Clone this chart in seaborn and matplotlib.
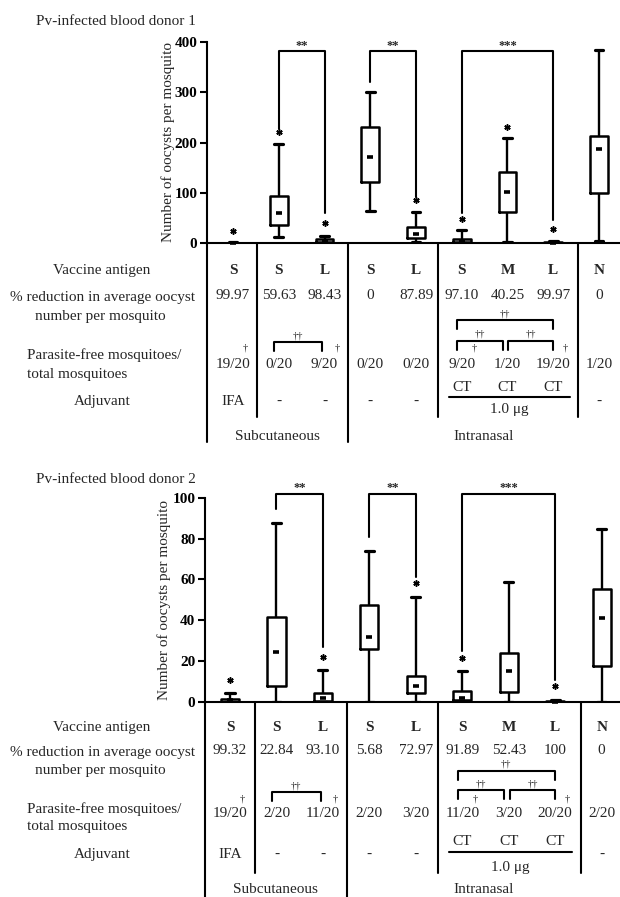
import numpy as np
import pandas as pd
import matplotlib
matplotlib.use("Agg")
import matplotlib.pyplot as plt
import seaborn as sns
from matplotlib.transforms import blended_transform_factory

nan = np.nan

# ---------------- categories ----------------
groups = ["S/IFA sc", "S sc", "L sc", "S in", "L in", "S/CT in", "M/CT in", "L/CT in", "N"]
antigen = ["S", "S", "L", "S", "L", "S", "M", "L", "N"]
adjuvant = ["IFA", "-", "-", "-", "-", "CT", "CT", "CT", "-"]
ct_dose = "1.0 \u03bcg"
routes = ["Subcutaneous", "Intranasal"]
row_labels = ["Vaccine antigen", "% reduction in average oocyst", "number per mosquito",
              "Parasite-free mosquitoes/", "total mosquitoes", "Adjuvant"]

# ---------------- donor 1 (box summaries) ----------------
d1_title = "Pv-infected blood donor 1"
d1_min = [0, 11, 0, 64, 1, 0, 2, 0, 3]
d1_q1 = [0, 35, 1, 121, 9, 1, 62, 0, 100]
d1_med = [0, 59, 3, 171, 18, 3, 102, 0.5, 188]
d1_q3 = [0.5, 93, 7, 230, 31, 8, 141, 2, 213]
d1_max = [1, 198, 14, 301, 62, 25, 208, 3, 384]
d1_star = [24, 220, 39, nan, 85, 48, 231, 28, nan]
d1_yticks = [0, 100, 200, 300, 400]
d1_reduction = ["99.97", "59.63", "98.43", "0", "87.89", "97.10", "40.25", "99.97", "0"]
d1_free = ["19/20", "0/20", "9/20", "0/20", "0/20", "9/20", "1/20", "19/20", "1/20"]
d1_sig_top = 382
d1_sig_legs = [(226, 59), (321, 92), (59, 46)]

# ---------------- donor 2 ----------------
d2_title = "Pv-infected blood donor 2"
d2_min = [0, 0, 0, 0, 0, 0, 0, 0, 0]
d2_q1 = [0, 7.5, 0.3, 26, 4.2, 0.6, 4.6, 0, 17.4]
d2_med = [0.5, 24.5, 1.5, 31.5, 7.6, 1.5, 14.8, 0, 40.8]
d2_q3 = [1, 41.6, 4, 47.6, 12.4, 5, 23.7, 0.4, 55.1]
d2_max = [4, 87.5, 15.4, 73.8, 51.5, 15, 58.5, 0.8, 84.7]
d2_star = [10.4, nan, 22, nan, 58, 21.3, nan, 7.8, nan]
d2_yticks = [0, 20, 40, 60, 80, 100]
d2_reduction = ["99.32", "22.84", "93.10", "5.68", "72.97", "91.89", "52.43", "100", "0"]
d2_free = ["19/20", "2/20", "11/20", "2/20", "3/20", "11/20", "3/20", "20/20", "2/20"]
d2_sig_top = 102
d2_sig_legs = [(94.4, 26.7), (80.9, 61), (25, 10.4)]

# comparisons
sig_pairs = [(1, 2), (3, 4), (5, 7)]
sig_marks = ["**", "**", "***"]
free_dagger_groups = [0, 2, 5, 7]

# ---------------- layout (pixels) ----------------
W, H = 620, 897
LAYOUT = [
    dict(box=(207, 42, 620, 243), x0=233, step=45.75, title_y=20, ylab_x=168,
         antigen=269, pct=294, pct1=296, pct2=315,
         b_hi=320, b_lo=341, b_sc=342, leg=9.5, dag=348, free=363, free1=354, free2=373,
         ct=386, ct_line=397, ug=408, adj=400, sep_end=417, route=435, long_end=442),
    dict(box=(205, 498, 620, 701.5), x0=230, step=46.46, title_y=478, ylab_x=164,
         antigen=726, pct=749, pct1=751, pct2=769,
         b_hi=771, b_lo=790, b_sc=792, leg=9.0, dag=799, free=812, free1=808, free2=825,
         ct=840, ct_line=852, ug=866, adj=853, sep_end=873, route=888, long_end=897),
]

sns.set_theme(style="ticks")
plt.rcParams["font.family"] = ["Liberation Serif", "DejaVu Serif"]

fig = plt.figure(figsize=(W / 100, H / 100), dpi=100)


def fy(py):
    return 1 - py / H


def frame(mins, q1s, meds, q3s, maxs):
    recs = []
    for g, a, b, c, d, e in zip(groups, mins, q1s, meds, q3s, maxs):
        for v in (a, b, c, d, e):
            recs.append({"group": g, "oocysts": v})
    return pd.DataFrame(recs)


FS = 11
LW = 1.5


def panel(L, title, mins, q1s, meds, q3s, maxs, stars, yticks, sig_top, sig_legs, reduction, free):
    l, t, r, b = L["box"]
    ax = fig.add_axes([l / W, 1 - b / H, (r - l) / W, (b - t) / H])
    df = frame(mins, q1s, meds, q3s, maxs)
    sns.boxplot(data=df, x="group", y="oocysts", order=groups, whis=(0, 100), width=0.39,
                fill=False, color="black", linecolor="black", linewidth=1.8,
                medianprops={"visible": False},
                whiskerprops={"linewidth": 1.7, "color": "black"},
                capprops={"linewidth": 2.3, "color": "black"}, ax=ax)
    xlo = -(L["x0"] - l) / L["step"]
    xhi = 8 + (r - (L["x0"] + 8 * L["step"])) / L["step"]
    ax.set_xlim(xlo, xhi)
    ax.set_ylim(0, yticks[-1])
    ax.set_yticks(yticks)
    ax.set_xticks([])
    ax.set_xlabel("")
    ax.set_ylabel("")
    sns.despine(ax=ax)
    for s in ("left", "bottom"):
        ax.spines[s].set_linewidth(LW)
        ax.spines[s].set_color("black")
    ax.tick_params(axis="y", direction="out", length=5, width=LW, labelsize=FS, pad=2, colors="black")
    for lbl in ax.get_yticklabels():
        lbl.set_fontweight("bold")
    pos = np.arange(len(groups))
    # median dashes and significance stars
    ax.plot(pos, meds, ls="none", marker="_", ms=5, mew=2.6, color="black", clip_on=False, zorder=5)
    ax.plot(pos, stars, ls="none", marker=(6, 2, 0), ms=4.5, mew=1.1, color="black", clip_on=False)
    # comparison brackets
    for (i, j), (li, lj), mark in zip(sig_pairs, sig_legs, sig_marks):
        ax.plot([i, i, j, j], [li, sig_top, sig_top, lj], color="black", lw=LW, clip_on=False)
        ax.text((i + j) / 2, sig_top + yticks[-1] * 0.012, mark, ha="center", va="baseline",
                fontsize=9, fontweight="bold", clip_on=False)

    fig.text(36 / W, fy(L["title_y"]), title, ha="left", va="center_baseline", fontsize=FS)
    fig.text(L["ylab_x"] / W, fy((t + b) / 2), "Number of oocysts per mosquito", rotation=90,
             ha="center", va="center", fontsize=FS)

    tr = blended_transform_factory(ax.transData, fig.transFigure)
    txt = dict(transform=tr, ha="center", va="center_baseline", fontsize=FS, clip_on=False)
    for i in pos:
        ax.text(i, fy(L["antigen"]), antigen[i], fontweight="bold", **txt)
        ax.text(i, fy(L["pct"]), reduction[i], **txt)
        ax.text(i, fy(L["free"]), free[i], **txt)
        if adjuvant[i] == "CT":
            ax.text(i, fy(L["ct"]), adjuvant[i], **txt)
        else:
            ax.text(i, fy(L["adj"]), adjuvant[i], **txt)
    ax.plot([4.72, 7.37], [fy(L["ct_line"])] * 2, transform=tr, color="black", lw=LW, clip_on=False)
    ax.text(6.04, fy(L["ug"]), ct_dose, **txt)

    # parasite-free comparison brackets (tt) and single daggers
    def tbr(x1, x2, yh):
        ax.plot([x1, x1, x2, x2], [fy(yh + L["leg"]), fy(yh), fy(yh), fy(yh + L["leg"])],
                transform=tr, color="black", lw=LW, clip_on=False)
        ax.text((x1 + x2) / 2, fy(yh - 6.5), "\u2020\u2020", transform=tr, ha="center",
                va="center", fontsize=7.5, clip_on=False)
    tbr(0.9, 1.95, L["b_sc"])
    tbr(4.9, 7.0, L["b_hi"])
    tbr(4.9, 5.9, L["b_lo"])
    tbr(6.02, 7.0, L["b_lo"])
    for g in free_dagger_groups:
        ax.text(g + 0.27, fy(L["dag"]), "\u2020", transform=tr, ha="center", va="center",
                fontsize=7.5, clip_on=False)

    # separators and route labels
    yb = fy(b)
    for xs in (0.53, 4.47, 7.55):
        ax.plot([xs, xs], [yb, fy(L["sep_end"])], transform=tr, color="black", lw=LW, clip_on=False)
    for xs in (xlo, 2.515):
        ax.plot([xs, xs], [yb, fy(L["long_end"])], transform=tr, color="black", lw=LW, clip_on=False)
    ax.text((xlo + 2.515) / 2, fy(L["route"]), routes[0], **txt)
    ax.text((2.515 + xhi) / 2, fy(L["route"]), routes[1], **txt)

    # row labels on the left
    lab = dict(va="center_baseline", fontsize=FS)
    fig.text(102 / W, fy(L["antigen"]), row_labels[0], ha="center", **lab)
    fig.text(102 / W, fy(L["pct1"]), row_labels[1], ha="center", **lab)
    fig.text(100 / W, fy(L["pct2"]), row_labels[2], ha="center", **lab)
    fig.text(27 / W, fy(L["free1"]), row_labels[3], ha="left", **lab)
    fig.text(27 / W, fy(L["free2"]), row_labels[4], ha="left", **lab)
    fig.text(102 / W, fy(L["adj"]), row_labels[5], ha="center", **lab)
    return ax


panel(LAYOUT[0], d1_title, d1_min, d1_q1, d1_med, d1_q3, d1_max, d1_star, d1_yticks,
      d1_sig_top, d1_sig_legs, d1_reduction, d1_free)
panel(LAYOUT[1], d2_title, d2_min, d2_q1, d2_med, d2_q3, d2_max, d2_star, d2_yticks,
      d2_sig_top, d2_sig_legs, d2_reduction, d2_free)

fig.savefig("out.png", dpi=100, facecolor="white")
